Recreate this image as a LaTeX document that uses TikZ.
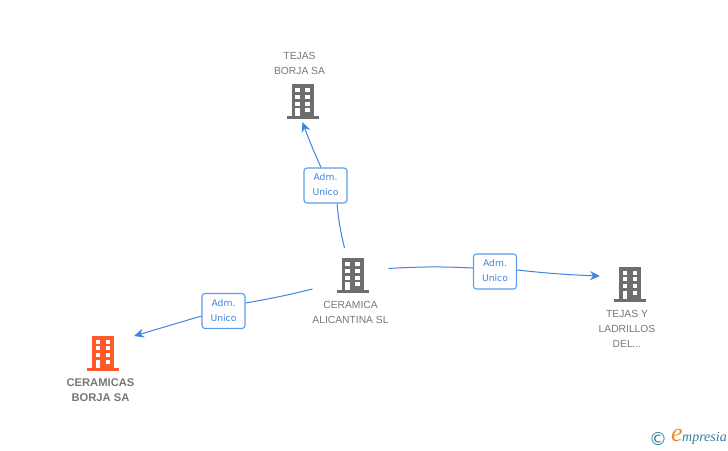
\documentclass[tikz,border=0pt]{standalone}
\usepackage{fontspec}
\setmainfont{Liberation Sans}
\newfontfamily\cargofont{DejaVu Sans}
\newfontfamily\logofont{Liberation Serif}
\usetikzlibrary{positioning, arrows.meta}
\definecolor{gris}{HTML}{6E6E6E}
\definecolor{grisrotulo}{HTML}{777777}
\definecolor{rojo}{HTML}{FF5A2B}
\definecolor{azul}{HTML}{3F84E0}
\definecolor{azulborde}{HTML}{5C9CEC}
\definecolor{verdelogo}{HTML}{2F7F96}
\definecolor{naranja}{HTML}{F08A1D}
\tikzset{
	hueco/.style={minimum width=32pt, minimum height=35pt, inner sep=0pt, outer sep=0pt},
	rotulo/.style={align=center, inner sep=0pt, text=grisrotulo, font=\fontsize{10.3}{15}\selectfont},
	cargo/.style={draw=azulborde, line width=1.1pt, rounded corners=3pt, fill=white, align=center,
		minimum width=43pt, minimum height=35pt, inner sep=0pt, text=azul, text depth=2pt,
		font=\cargofont\fontsize{9.2}{15}\selectfont},
	enlace/.style={draw=azul, line width=1pt},
	flecha/.style={enlace, -{Stealth[length=10pt, width=9pt]}}
}
\newcommand{\edificio}[3]{
	\node[hueco] (#1) at (#2) {};
	\begin{scope}[shift={(#1.center)}]
		\fill[#3] (-11,-17.5) rectangle (11,15);
		\fill[#3] (-16,14.5) rectangle (16,17.5);
		\foreach \fila in {-13.4,-6.7,0,6.6} {
			\fill[white] (-7.5,\fila) rectangle (-3,\fila+4);
			\fill[white] (2.5,\fila) rectangle (7,\fila+4);
		}
		\fill[white] (-7.5,6.6) rectangle (-3,14.5);
	\end{scope}
}
\begin{document}
\begin{tikzpicture}[x=1pt, y=-1pt]
	\useasboundingbox (0,0) rectangle (728,450);
	% Edificios
	\edificio{tejas}{302.5,101.5}{gris}
	\edificio{alicantina}{352.5,275.5}{gris}
	\edificio{cerborja}{103,353}{rojo}
	\edificio{ladrillos}{630,284}{gris}
	
	% Rotulos
	\node[rotulo, above=9pt of tejas, xshift=-3pt] (rtejas) {TEJAS\\BORJA SA};
	\node[rotulo, below=8pt of alicantina, xshift=-2pt] (ralicantina) {CERAMICA\\ALICANTINA SL};
	\node[rotulo, below=8pt of cerborja, xshift=-2.5pt, font=\fontsize{11.2}{15}\selectfont\bfseries] (rcerborja) {CERAMICAS\\BORJA SA};
	\node[rotulo, below=9pt of ladrillos, xshift=-3pt] (rladrillos) {TEJAS Y\\LADRILLOS\\DEL...};
	
	% Cargos
	\node[cargo] (adm1) at (325.5,185.5) {Adm.\\Unico};
	\node[cargo] (adm2) at (223.5,311) {Adm.\\Unico};
	\node[cargo] (adm3) at (495,271.5) {Adm.\\Unico};
	
	% Enlaces
	\draw[enlace] ([xshift=-8pt, yshift=10pt]alicantina.north) to[bend left=4] ([xshift=11.5pt]adm1.south);
	\draw[flecha] ([xshift=-4.5pt]adm1.north) to[bend left=2] ([yshift=-3pt]tejas.south);
	\draw[enlace] ([xshift=-24pt, yshift=-13.5pt]alicantina.west) to[bend left=2] ([yshift=8pt]adm2.east);
	\draw[flecha] ([yshift=-5pt]adm2.west) to ([xshift=31pt, yshift=-0.5pt]cerborja.north);
	\draw[enlace] ([xshift=20pt, yshift=7pt]alicantina.east) to[bend left=3] ([yshift=3.5pt]adm3.west);
	\draw[flecha] ([yshift=1.5pt]adm3.east) to[bend right=2] ([xshift=-14pt, yshift=8pt]ladrillos.west);
	
	% Marca
	\node[inner sep=0pt, text=verdelogo, font=\cargofont\fontsize{18}{18}\selectfont] (copy) at (658,438.5) {©};
	\node[inner sep=0pt, text=naranja, font=\logofont\itshape\fontsize{26}{26}\selectfont] (letra) at (677,435.5) {e};
	\node[inner sep=0pt, text=verdelogo, anchor=west, font=\logofont\itshape\fontsize{14}{14}\selectfont] (marca) at (682,438.5) {mpresia};
\end{tikzpicture}
\end{document}
